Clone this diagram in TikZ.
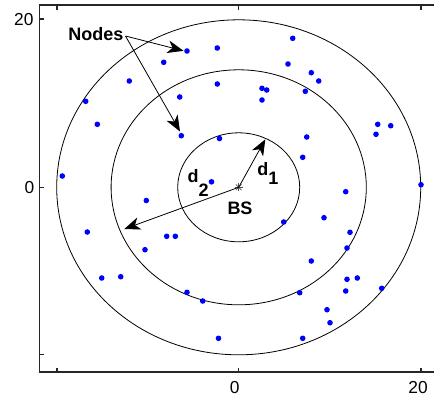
\documentclass[tikz,border=0pt]{standalone}
\usepackage{fontspec}
\setmainfont{Liberation Sans}
\usetikzlibrary{arrows.meta}
\begin{document}
\begin{tikzpicture}[x=0.75pt,y=-0.75pt,
  dot/.style={circle,fill=blue,inner sep=0pt,minimum size=4.2pt},
  ring/.style={draw=black,line width=0.6pt},
  frame/.style={draw=black!85,line width=1.1pt},
  tick/.style={draw=black!85,line width=0.8pt},
  ticklabel/.style={inner sep=0pt,font=\fontsize{13}{13}\selectfont},
  lbl/.style={inner sep=0pt,font=\fontsize{13.5}{13.5}\selectfont\bfseries},
  pointer/.style={draw=black,line width=0.6pt,-{Stealth[length=12pt,width=9.5pt,inset=3.5pt]}}]
\useasboundingbox (0,0) rectangle (434,401);
% frame
\coordinate (tl) at (39.5,5);
\coordinate (tr) at (434,5);
\coordinate (bl) at (39.5,372);
\coordinate (br) at (434,372);
\draw[frame] (tr) -- (tl) -- (bl) -- (br);
% ticks
\foreach \xx in {57,238.7,421}{
  \draw[tick] (\xx,372) -- (\xx,367.5);
  \draw[tick] (\xx,5) -- (\xx,9.5);
}
\foreach \yy in {19,187.3,354.3}{
  \draw[tick] (39.5,\yy) -- (44,\yy);
}
\node[ticklabel] (y20) at (23.8,19.2) {20};
\node[ticklabel] (y0) at (29.5,188) {0};
\node[ticklabel] (x0) at (234.7,387.5) {0};
\node[ticklabel] (x20) at (418,387.5) {20};
% rings
\coordinate (bs) at (238.7,187.3);
\draw[ring] (bs) ellipse [x radius=182, y radius=167.5];
\draw[ring] (bs) ellipse [x radius=127.6, y radius=117.5];
\draw[ring] (bs) ellipse [x radius=61, y radius=54.5];
% nodes
\foreach \i/\px/\py in {
1/187/51, 2/217.3/48, 3/163.7/62.3, 4/129.3/81, 5/217.3/84,
6/179.7/97, 7/85.7/101.3, 8/97.3/124.3, 9/181.3/135.7, 10/219.5/138.5,
11/62.3/176, 12/211.5/181.8, 13/146.3/200.5, 14/292.7/38.3, 15/288/64,
16/311.3/72.7, 17/318.7/81, 18/262/88.3, 19/266.7/90, 20/305.3/91.3,
21/262/100, 22/377.7/124.3, 23/390.7/125.7, 24/376/134.3, 25/306.7/137,
26/302.7/157.3, 27/421/184.7, 28/345.7/191.7, 29/87.3/232, 30/166.7/236.3,
31/175.3/236.3, 32/145/249.7, 33/101.7/278, 34/120.7/276.7, 35/187/292.3,
36/202.7/301, 37/218.5/338.3, 38/283.7/222, 39/324/217.7, 40/350/232.3,
41/347/248, 42/311.3/261, 43/347/279.3, 44/357.3/278, 45/345.7/291,
46/381.7/288.3, 47/299.7/292.7, 48/327/309.7, 49/330/322.7, 50/302.7/338.3}
  \node[dot] (n\i) at (\px,\py) {};
% BS marker
\foreach \a in {0,45,...,315}
  \draw[black!70,line width=0.5pt] (bs) -- ++(\a:4);
\node[lbl] (bslabel) at (240,208) {BS};
% d1, d2
\coordinate (d1tip) at (265.3,139.3);
\coordinate (d2tip) at (124.3,229);
\draw[pointer] (bs) -- (d1tip);
\draw[pointer] (bs) -- (d2tip);
\node[lbl,anchor=base west] (d1) at (257,175) {d\raisebox{-6.8pt}{1}};
\node[lbl,anchor=base west] (d2) at (187.3,182.7) {d\raisebox{-10.5pt}{2}};
% Nodes label
\node[lbl] (nodeslbl) at (96,34) {Nodes};
\coordinate (ns) at (125.5,36);
\coordinate (tip1) at (183.5,50.8);
\coordinate (tip2) at (180,131.5);
\draw[pointer] (ns) -- (tip1);
\draw[pointer] (ns) -- (tip2);
\end{tikzpicture}
\end{document}
